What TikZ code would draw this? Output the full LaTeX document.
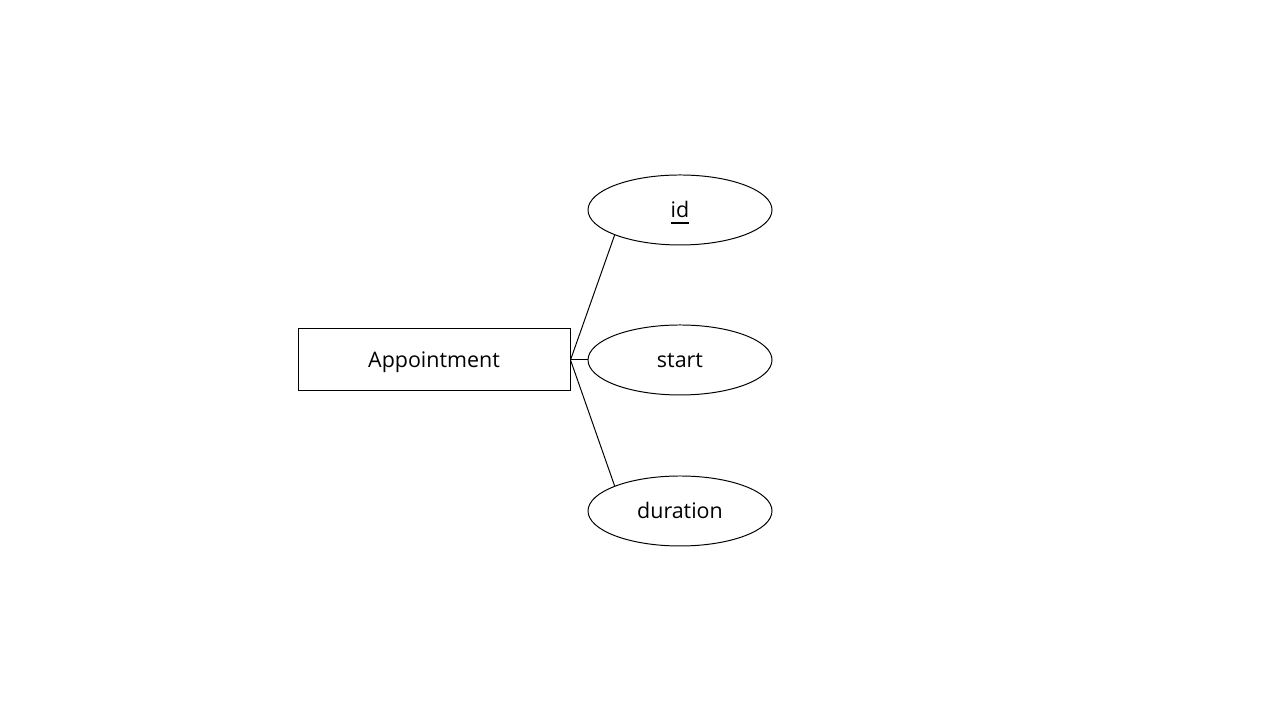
\documentclass[tikz,border=0pt]{standalone}
\usepackage{fontspec}
\setmainfont{Open Sans}
\usepackage{tikz}
\usetikzlibrary{shapes, positioning}

\begin{document}
\begin{tikzpicture}[
		entity/.style={draw, line width=0.28pt, minimum width=2.72cm, minimum height=0.62cm, inner sep=0pt, text height=6pt, text depth=1.45pt, font=\fontsize{6.1}{7.3}\selectfont},
		attrib/.style={draw, ellipse, line width=0.28pt, minimum width=1.84cm, minimum height=0.70cm, inner sep=0pt, text height=6pt, text depth=1.45pt, font=\fontsize{6.1}{7.3}\selectfont}
	]
			\useasboundingbox (0, 0) rectangle (12.8, 7.2);
			\node [entity] (appt) at (4.34, 3.60) {Appointment};
			\node [attrib] (id) at (6.80, 5.10) {\underline{id}};
			\node [attrib] (start) at (6.80, 3.60) {start};
			\node [attrib] (dur) at (6.80, 2.09) {duration};
			\draw [line width=0.28pt] (appt.east) -- (id.201);
			\draw [line width=0.28pt] (appt.east) -- (start.west);
			\draw [line width=0.28pt] (appt.east) -- (dur.159);
		\end{tikzpicture}
\end{document}
